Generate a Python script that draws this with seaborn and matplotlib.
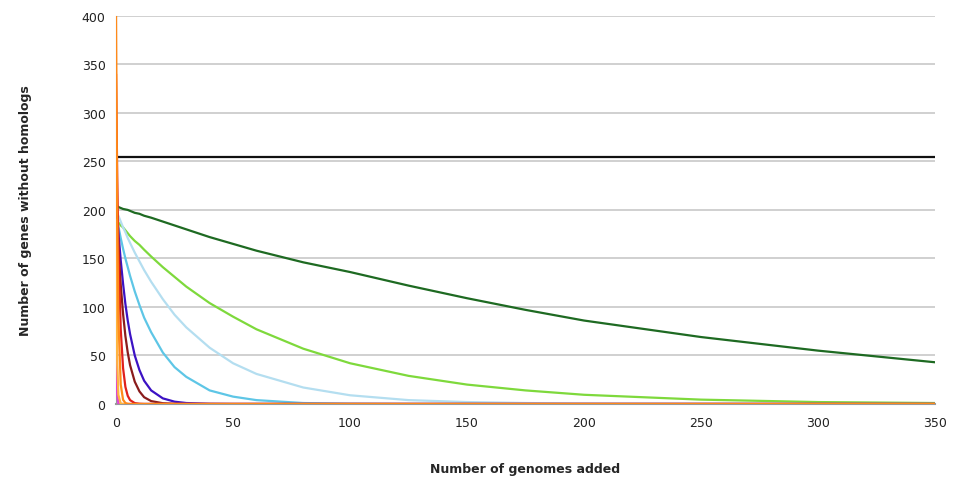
import matplotlib
matplotlib.use("Agg")
import matplotlib.pyplot as plt
import seaborn as sns
import pandas as pd

x_vals = [0, 0.5, 1, 2, 3, 4, 5, 6, 8, 10, 12, 15, 20, 25, 30, 40, 50, 60, 80, 100, 125, 150, 175, 200, 250, 300, 350]

black = [255] * 27
dark_green = [204, 204, 203, 202, 201, 200.5, 200, 199, 197, 196, 194, 192, 188, 184, 180, 172, 165, 158, 146, 136, 122, 109, 97, 86, 69, 55, 43]
light_green = [190, 189, 187, 184, 182, 179, 176, 173, 168, 164, 159, 152, 141, 131, 121, 104, 90, 77, 57, 42, 29, 20, 14, 9.5, 4.5, 2, 1]
pale_blue = [200, 197, 194, 188, 182, 177, 171, 166, 156, 147, 138, 126, 108, 92, 79, 58, 42, 31, 17, 9, 4, 2, 1, 0.4, 0, 0, 0]
cyan = [195, 189, 183, 171, 160, 150, 141, 132, 116, 102, 89, 74, 53, 38, 28, 14, 7.6, 4, 1, 0.3, 0, 0, 0, 0, 0, 0, 0]
blue = [212, 194, 177, 148, 124, 103, 86, 72, 50, 35, 24, 14, 5.8, 2.4, 1, 0.2, 0, 0, 0, 0, 0, 0, 0, 0, 0, 0, 0]
maroon = [215, 187, 162, 123, 93, 70, 53, 40, 23, 13, 7, 3, 0.8, 0.2, 0, 0, 0, 0, 0, 0, 0, 0, 0, 0, 0, 0, 0]
red = [340, 235, 162, 77, 37, 17.6, 8.4, 4, 0.9, 0.2, 0, 0, 0, 0, 0, 0, 0, 0, 0, 0, 0, 0, 0, 0, 0, 0, 0]
orange = [400, 189, 89, 20, 4.4, 1, 0.2, 0, 0, 0, 0, 0, 0, 0, 0, 0, 0, 0, 0, 0, 0, 0, 0, 0, 0, 0, 0]
light_orange = [190, 42, 9.5, 0.5, 0, 0, 0, 0, 0, 0, 0, 0, 0, 0, 0, 0, 0, 0, 0, 0, 0, 0, 0, 0, 0, 0, 0]
magenta = [150, 10, 0.5, 0, 0, 0, 0, 0, 0, 0, 0, 0, 0, 0, 0, 0, 0, 0, 0, 0, 0, 0, 0, 0, 0, 0, 0]

series = {
    "black": black,
    "dark_green": dark_green,
    "light_green": light_green,
    "pale_blue": pale_blue,
    "cyan": cyan,
    "blue": blue,
    "maroon": maroon,
    "magenta": magenta,
    "light_orange": light_orange,
    "red": red,
    "orange": orange,
}
colors = {
    "black": "#111111",
    "dark_green": "#1e6a22",
    "light_green": "#7ed93c",
    "pale_blue": "#b4def0",
    "cyan": "#5ec6e6",
    "blue": "#3c12c4",
    "maroon": "#8a1c1c",
    "red": "#e0201c",
    "orange": "#ff8a1a",
    "light_orange": "#ffb540",
    "magenta": "#e040d8",
}

rows = []
for name, vals in series.items():
    for xv, yv in zip(x_vals, vals):
        rows.append({"x": xv, "y": yv, "series": name})
df = pd.DataFrame(rows)

sns.set_style("white")
plt.rcParams["font.family"] = ["DejaVu Sans"]

fig = plt.figure(figsize=(9.63, 4.81), dpi=100)
ax = fig.add_axes([0.1205, 0.158, 0.8505, 0.807])

ax.yaxis.grid(True, color="#c8c8c8", linewidth=1.2, zorder=0)
ax.set_axisbelow(True)

sns.lineplot(data=df, x="x", y="y", hue="series", palette=colors,
             hue_order=list(series.keys()), sort=False, linewidth=1.6,
             legend=False, ax=ax, zorder=3)

ax.set_xlim(0, 350)
ax.set_ylim(0, 400)
ax.set_xticks(range(0, 351, 50))
ax.set_yticks(range(0, 401, 50))
ax.tick_params(axis="both", labelsize=9, colors="#222222", length=4, width=1,
               color="#999999", direction="out")
ax.tick_params(axis="x", length=5)

for side in ["top", "right"]:
    ax.spines[side].set_visible(False)
ax.spines["left"].set_color("#999999")
ax.spines["bottom"].set_color("#999999")
ax.spines["bottom"].set_linewidth(1.5)

ax.set_xlabel("Number of genomes added", fontsize=9, fontweight="bold", labelpad=24)
ax.set_ylabel("Number of genes without homologs", fontsize=9, fontweight="bold", labelpad=36)

fig.savefig("out.png", dpi=100)
